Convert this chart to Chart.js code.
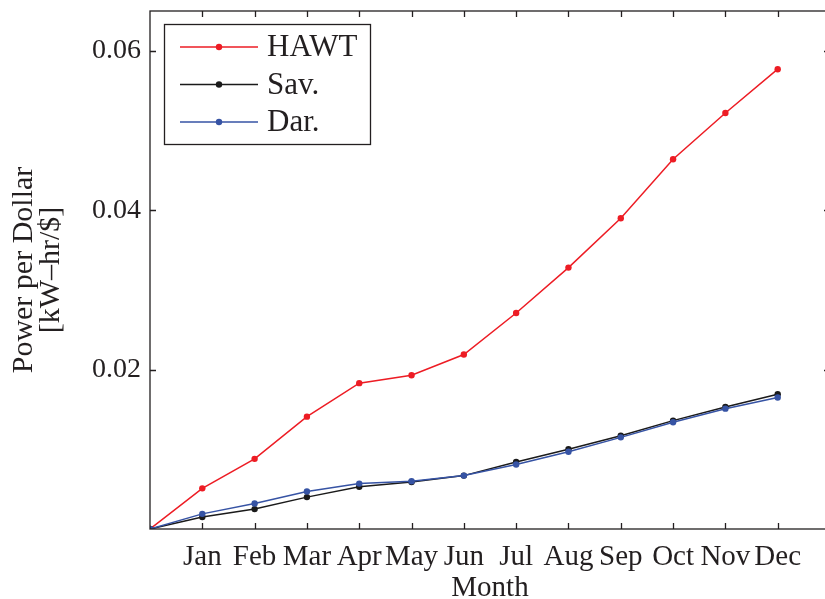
<!DOCTYPE html>
<html>
<head>
<meta charset="utf-8">
<script src="https://cdn.jsdelivr.net/npm/chart.js@4/dist/chart.umd.min.js"></script>
<style>
  html, body { margin: 0; padding: 0; background: #fff; overflow: hidden; }
  #chart { display: block; }
</style>
</head>
<body>
<canvas id="chart" width="840" height="599"></canvas>
<script>
// months along the x axis (the origin at 0 carries no label)
const months = ['Jan', 'Feb', 'Mar', 'Apr', 'May', 'Jun', 'Jul', 'Aug', 'Sep', 'Oct', 'Nov', 'Dec'];
const yTicks = [0.02, 0.04, 0.06];

// cumulative power per dollar, starting at 0
const hawt = [0, 0.0051, 0.0088, 0.0141, 0.0183, 0.0193, 0.0219, 0.0271, 0.0328, 0.0390, 0.0464, 0.0522, 0.0577];
const sav  = [0, 0.0015, 0.0025, 0.0040, 0.0053, 0.0059, 0.0067, 0.0084, 0.0100, 0.0117, 0.0136, 0.0153, 0.0169];
const dar  = [0, 0.0019, 0.0032, 0.0047, 0.0057, 0.0060, 0.0067, 0.0081, 0.0097, 0.0115, 0.0134, 0.0151, 0.0165];

const FONT = '"Liberation Serif", "DejaVu Serif", serif';
const INK = '#231f20';

const toPoints = arr => arr.map((v, i) => ({ x: i, y: v }));

const series = (label, values, color, order) => ({
    label,
    data: toPoints(values),
    borderColor: color,
    backgroundColor: color,
    borderWidth: 1.5,
    pointRadius: 3.2,
    pointBorderWidth: 0,
    pointBackgroundColor: color,
    tension: 0,
    order
});

// no extra room for edge labels, the plot box is placed by layout padding
const noEdgePad = s => {
    s.paddingTop = 0; s.paddingBottom = 0;
    s.paddingLeft = 0; s.paddingRight = 0;
};

// boxed axes with inward ticks on all four sides
const boxAxes = {
    id: 'boxAxes',
    afterDatasetsDraw(chart) {
        const { ctx, chartArea: a, scales } = chart;
        const len = 6;
        ctx.save();
        ctx.strokeStyle = INK;
        ctx.lineWidth = 1.3;
        ctx.strokeRect(a.left, a.top, a.right - a.left, a.bottom - a.top);
        ctx.beginPath();
        scales.x.ticks.forEach(t => {
            const px = Math.round(scales.x.getPixelForValue(t.value)) + 0.5;
            ctx.moveTo(px, a.bottom); ctx.lineTo(px, a.bottom - len);
            ctx.moveTo(px, a.top); ctx.lineTo(px, a.top + len);
        });
        scales.y.ticks.forEach(t => {
            const py = Math.round(scales.y.getPixelForValue(t.value)) + 0.5;
            ctx.moveTo(a.left, py); ctx.lineTo(a.left + len, py);
            ctx.moveTo(a.right, py); ctx.lineTo(a.right - len, py);
        });
        ctx.stroke();
        ctx.restore();
    }
};

// legend box in the upper left: line with a dot, then the label
const lineLegend = {
    id: 'lineLegend',
    afterDraw(chart) {
        const { ctx, chartArea: a } = chart;
        const x = a.left + 14, y = a.top + 13, w = 206, h = 120;
        ctx.save();
        ctx.fillStyle = '#fff';
        ctx.fillRect(x, y, w, h);
        ctx.strokeStyle = INK;
        ctx.lineWidth = 1.3;
        ctx.strokeRect(x + 0.5, y + 0.5, w, h);
        ctx.font = '31px ' + FONT;
        ctx.textBaseline = 'middle';
        chart.data.datasets.forEach((ds, i) => {
            const cy = y + 23 + i * 37.5;
            ctx.strokeStyle = ds.borderColor;
            ctx.lineWidth = 1.5;
            ctx.beginPath();
            ctx.moveTo(x + 16, cy); ctx.lineTo(x + 94, cy);
            ctx.stroke();
            ctx.fillStyle = ds.borderColor;
            ctx.beginPath();
            ctx.arc(x + 55, cy, 3.2, 0, Math.PI * 2);
            ctx.fill();
            ctx.fillStyle = INK;
            ctx.fillText(ds.label, x + 103, cy + 1);
        });
        ctx.restore();
    }
};

new Chart(document.getElementById('chart'), {
    type: 'line',
    data: {
        datasets: [
            series('HAWT', hawt, '#ed1c24', 3),
            series('Sav.', sav, '#1a1a1a', 2),
            series('Dar.', dar, '#3653a4', 1)
        ]
    },
    options: {
        responsive: false,
        animation: false,
        layout: { padding: { top: 11, right: 10, left: 0, bottom: 0 } },
        plugins: {
            legend: { display: false },
            tooltip: { enabled: false }
        },
        scales: {
            x: {
                type: 'linear',
                min: 0,
                max: 13,
                grid: { display: false },
                border: { display: false },
                afterBuildTicks: s => { s.ticks = months.map((m, i) => ({ value: i + 1 })); },
                afterFit: s => { s.height = 70; noEdgePad(s); },
                ticks: {
                    autoSkip: false,
                    maxRotation: 0,
                    padding: 3,
                    color: INK,
                    font: { family: FONT, size: 29 },
                    callback: v => months[v - 1]
                },
                title: {
                    display: true,
                    text: 'Month',
                    color: INK,
                    font: { family: FONT, size: 29, lineHeight: 1.0 },
                    padding: { top: 0, bottom: -4 }
                }
            },
            y: {
                min: 0,
                max: 0.065,
                grid: { display: false },
                border: { display: false },
                afterBuildTicks: s => { s.ticks = yTicks.map(v => ({ value: v })); },
                afterFit: s => { s.width = 150; noEdgePad(s); },
                ticks: {
                    padding: 1,
                    color: INK,
                    font: { family: FONT, size: 28 },
                    callback: v => v.toFixed(2)
                },
                title: {
                    display: true,
                    text: ['Power per Dollar', '[kW\u2013hr/$]'],
                    color: INK,
                    font: { family: FONT, size: 30, lineHeight: 0.92 },
                    padding: { top: 10, bottom: 0 }
                }
            }
        }
    },
    plugins: [boxAxes, lineLegend]
});
</script>
</body>
</html>
